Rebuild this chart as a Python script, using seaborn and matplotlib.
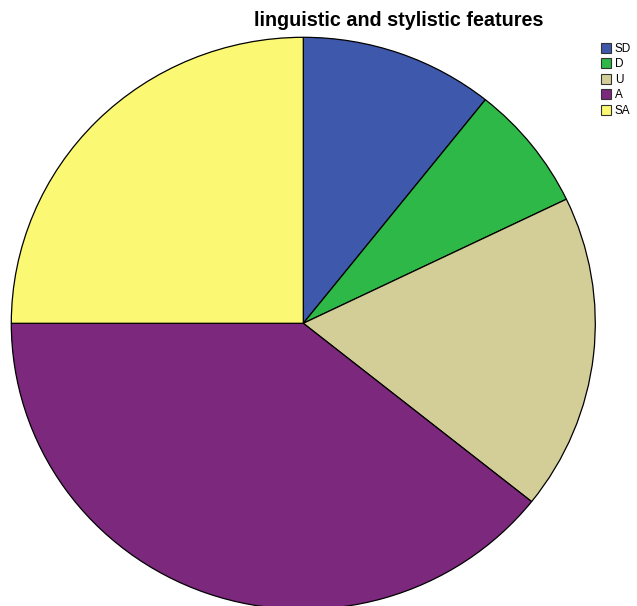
import matplotlib
matplotlib.use("Agg")
import matplotlib.pyplot as plt
from matplotlib.patches import Patch
import seaborn as sns

# Response counts per answer category
categories = ["SD", "D", "U", "A", "SA"]
counts = [3, 2, 5, 11, 7]
colors = ["#3e58ac", "#2eb848", "#d3ce97", "#7c287d", "#fbf873"]

sns.set_theme(style="white")
plt.rcParams["font.family"] = ["Liberation Sans", "DejaVu Sans"]
plt.rcParams["text.color"] = "black"
palette = sns.color_palette(colors)

W, H = 637, 606
fig = plt.figure(figsize=(W / 100, H / 100), dpi=100)
fig.patch.set_facecolor("white")

# Pie area in pixels: centre (303.3, 323.3), radii 292 x 286
cx, cy, rx, ry = 303.3, 323.3, 292, 286
ax = fig.add_axes([(cx - rx) / W, (H - cy - ry) / H, 2 * rx / W, 2 * ry / H])
ax.pie(counts, colors=palette, startangle=90, counterclock=False,
       radius=1, wedgeprops=dict(edgecolor="black", linewidth=0.9))
ax.set_aspect("auto")
ax.set_xlim(-1, 1)
ax.set_ylim(-1, 1)
ax.axis("off")

fig.text(399 / W, 1 - 21 / H, "linguistic and stylistic features",
         ha="center", va="center", fontsize=14.2, fontweight="bold",
         color="black")

handles = [Patch(facecolor=c, edgecolor="#333333", linewidth=0.8) for c in palette]
fig.legend(handles, categories, loc="upper left",
           bbox_to_anchor=(596 / W, 1 - 38 / H), frameon=False,
           fontsize=8.5, handlelength=0.9, handleheight=0.9,
           handletextpad=0.3, labelspacing=0.3, borderaxespad=0,
           labelcolor="black")

fig.savefig("out.png", dpi=100, facecolor="white")
